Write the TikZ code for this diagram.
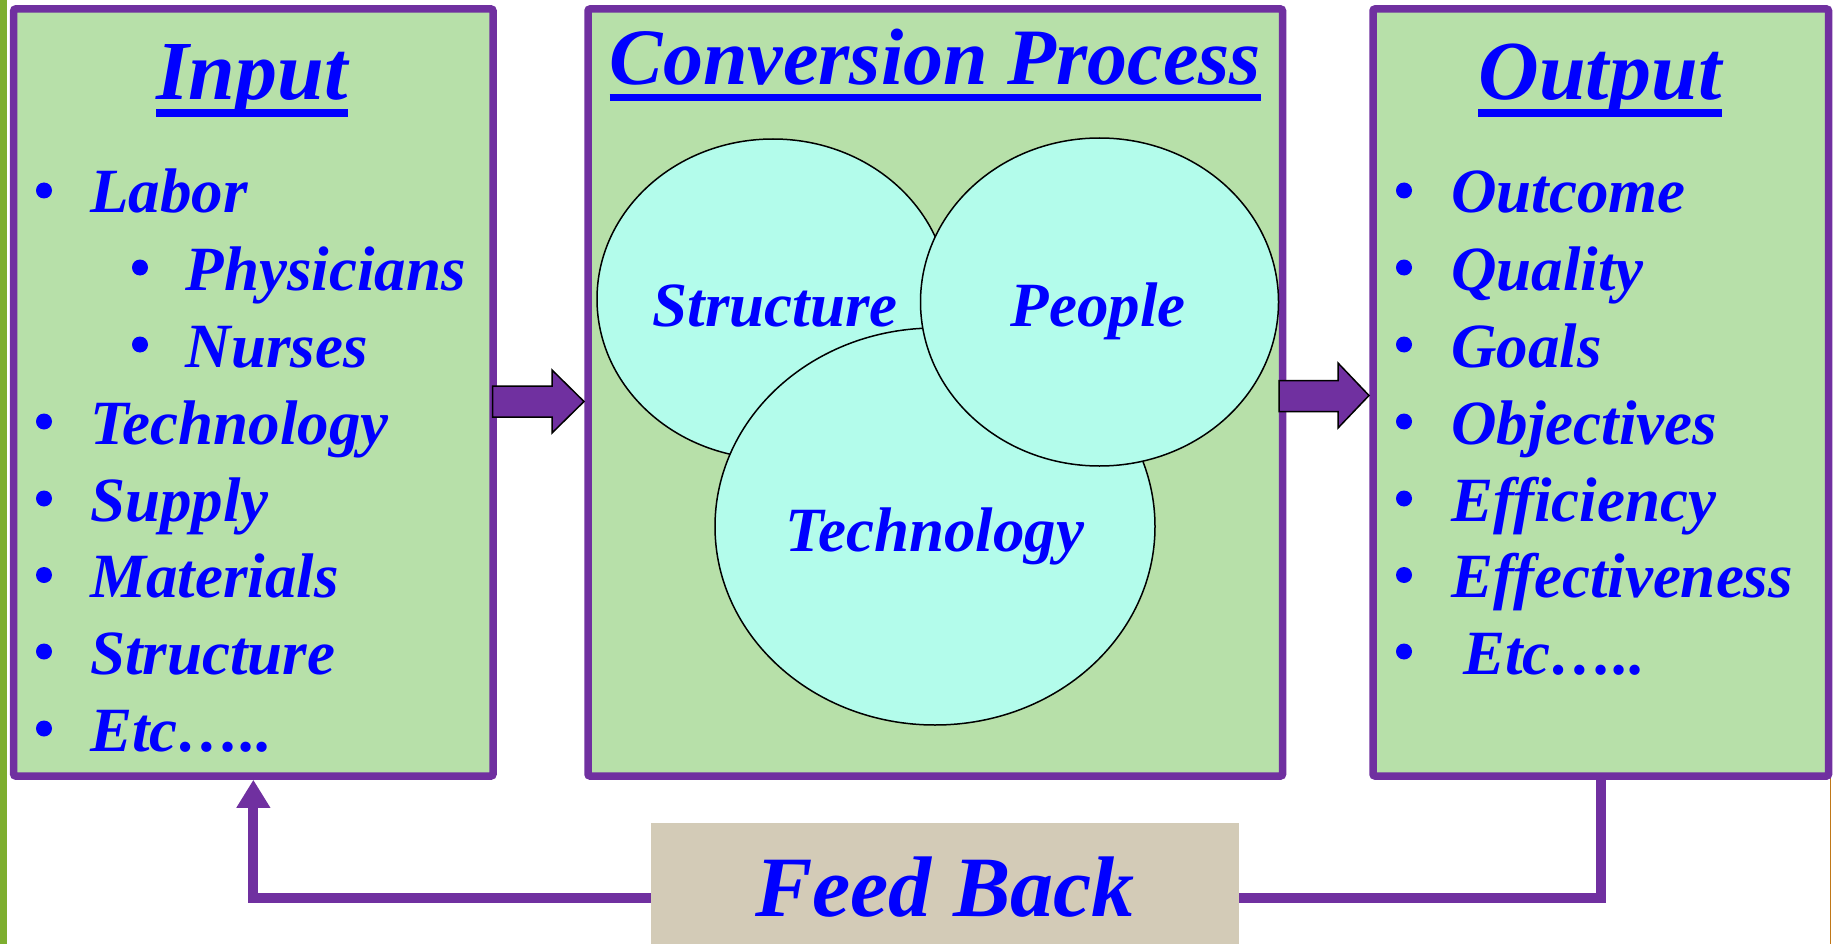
\documentclass[tikz,border=0pt]{standalone}
\usepackage{fontspec}
\setmainfont{Liberation Serif}
\usetikzlibrary{shapes.geometric,arrows.meta}

\definecolor{panelgreen}{HTML}{B7E0A9}
\definecolor{panelpurple}{HTML}{7030A0}
\definecolor{blobaqua}{HTML}{B3FCEB}
\definecolor{fbtan}{HTML}{D3CBB7}
\definecolor{bargreen}{HTML}{7DAE2F}
\definecolor{edgeorange}{HTML}{C07818}

\tikzset{
  panel/.style={draw=panelpurple, fill=panelgreen, line width=7.5pt, rounded corners=2pt,
    minimum height=767pt, inner sep=0pt},
  heading/.style={text=blue, font=\bfseries\itshape\fontsize{84}{90}\selectfont,
    inner sep=0pt, anchor=base},
  uline/.style={draw=blue, line width=7.5pt},
  item/.style={text=blue, font=\bfseries\itshape\fontsize{63}{70}\selectfont,
    inner sep=0pt, anchor=base west},
  bulletdot/.style={circle, fill=blue, minimum size=16pt, inner sep=0pt},
  blob/.style={ellipse, draw=black, line width=1.5pt, fill=blobaqua, inner sep=0pt},
  blobtext/.style={text=blue, font=\bfseries\itshape\fontsize{63}{70}\selectfont,
    inner sep=0pt, anchor=base},
  blockarrow/.style={fill=panelpurple, draw=black, line width=1.5pt},
  fbline/.style={draw=panelpurple, line width=10pt},
  fbbox/.style={fill=fbtan, inner sep=0pt},
  fbtext/.style={text=blue, font=\bfseries\itshape\fontsize{86}{92}\selectfont,
    inner sep=0pt, anchor=base}
}

\begin{document}
\begin{tikzpicture}[x=1pt,y=-1pt]
\useasboundingbox (0,0) rectangle (1833,944);
\fill[white] (0,0) rectangle (1833,944);
\fill[bargreen] (0,0) rectangle (7.3,944);
\draw[edgeorange, line width=1.5pt] (1830.7,777) -- (1830.7,944);

% the three panels
\node[panel, minimum width=479.3pt] (inp) at (253.35,392.5) {};
\node[panel, minimum width=694.5pt] (conv) at (935.25,392.5) {};
\node[panel, minimum width=455.5pt] (outp) at (1600.75,392.5) {};

% titles
\node[heading] (inptitle) at (252,100) {Input};
\node[heading, font=\bfseries\itshape\fontsize{80}{88}\selectfont] (convtitle) at (935.5,85) {Conversion Process};
\node[heading] (outptitle) at (1600,100) {Output};
\draw[uline] ([yshift=-13pt]inptitle.base west) -- ([yshift=-13pt]inptitle.base east);
\draw[uline] ([yshift=-12.5pt]convtitle.base west) -- ([yshift=-12.5pt]convtitle.base east);
\draw[uline] ([yshift=-13pt]outptitle.base west) -- ([yshift=-13pt]outptitle.base east);

% input list
\node[bulletdot] (ib1) at (44,190.5) {};
\node[item] (i1) at (90,213) {Labor};
\node[bulletdot] (ib2) at (140,267.5) {};
\node[item] (i2) at (185.6,290) {Physicians};
\node[bulletdot] (ib3) at (140,344.5) {};
\node[item] (i3) at (185.6,367) {Nurses};
\node[bulletdot] (ib4) at (44,421.5) {};
\node[item] (i4) at (90,444) {Technology};
\node[bulletdot] (ib5) at (44,498.5) {};
\node[item] (i5) at (90,521) {Supply};
\node[bulletdot] (ib6) at (44,575) {};
\node[item] (i6) at (90,597.5) {Materials};
\node[bulletdot] (ib7) at (44,651.5) {};
\node[item] (i7) at (90,674) {Structure};
\node[bulletdot] (ib8) at (44,728.5) {};
\node[item] (i8) at (90,751) {Etc…..};

% output list
\node[bulletdot] (ob1) at (1404,190.5) {};
\node[item] (o1) at (1451,213) {Outcome};
\node[bulletdot] (ob2) at (1404,267.5) {};
\node[item] (o2) at (1451,290) {Quality};
\node[bulletdot] (ob3) at (1404,344.5) {};
\node[item] (o3) at (1451,367) {Goals};
\node[bulletdot] (ob4) at (1404,421.5) {};
\node[item] (o4) at (1451,444) {Objectives};
\node[bulletdot] (ob5) at (1404,498.5) {};
\node[item] (o5) at (1451,521) {Efficiency};
\node[bulletdot] (ob6) at (1404,575) {};
\node[item] (o6) at (1451,597.5) {Effectiveness};
\node[bulletdot] (ob7) at (1404,651.5) {};
\node[item] (o7) at (1463,674) {Etc…..};

% overlapping ellipses
\node[blob, minimum width=352pt, minimum height=320pt] (str) at (773,299) {};
\node[blob, minimum width=440pt, minimum height=397pt] (tec) at (935,526.5) {};
\node[blob, minimum width=358pt, minimum height=328pt] (peo) at (1099.5,302) {};
\node[blobtext] (strtext) at (775,326) {Structure};
\node[blobtext] (peotext) at (1098,326) {People};
\node[blobtext] (tectext) at (935,551) {Technology};

% block arrows between panels
\draw[blockarrow] (492.7,386) -- (552,386) -- (552,370) -- (584,401.5)
  -- (552,433) -- (552,417) -- (492.7,417) -- cycle;
\draw[blockarrow] (1279,380.7) -- (1338,380.7) -- (1338,363) -- (1369,395.5)
  -- (1338,428) -- (1338,411.7) -- (1279,411.7) -- cycle;

% feedback loop
\coordinate (fbl) at (945,898);
\draw[fbline] (outp.south) |- (fbl);
\draw[fbline, -{Triangle[length=28pt,width=32pt]}] (fbl) -| (inp.south);
\node[fbbox, minimum width=588pt, minimum height=121pt] (fb) at (945,883.5) {};
\node[fbtext] (fbtxt) at (945,916) {Feed Back};
\end{tikzpicture}
\end{document}
